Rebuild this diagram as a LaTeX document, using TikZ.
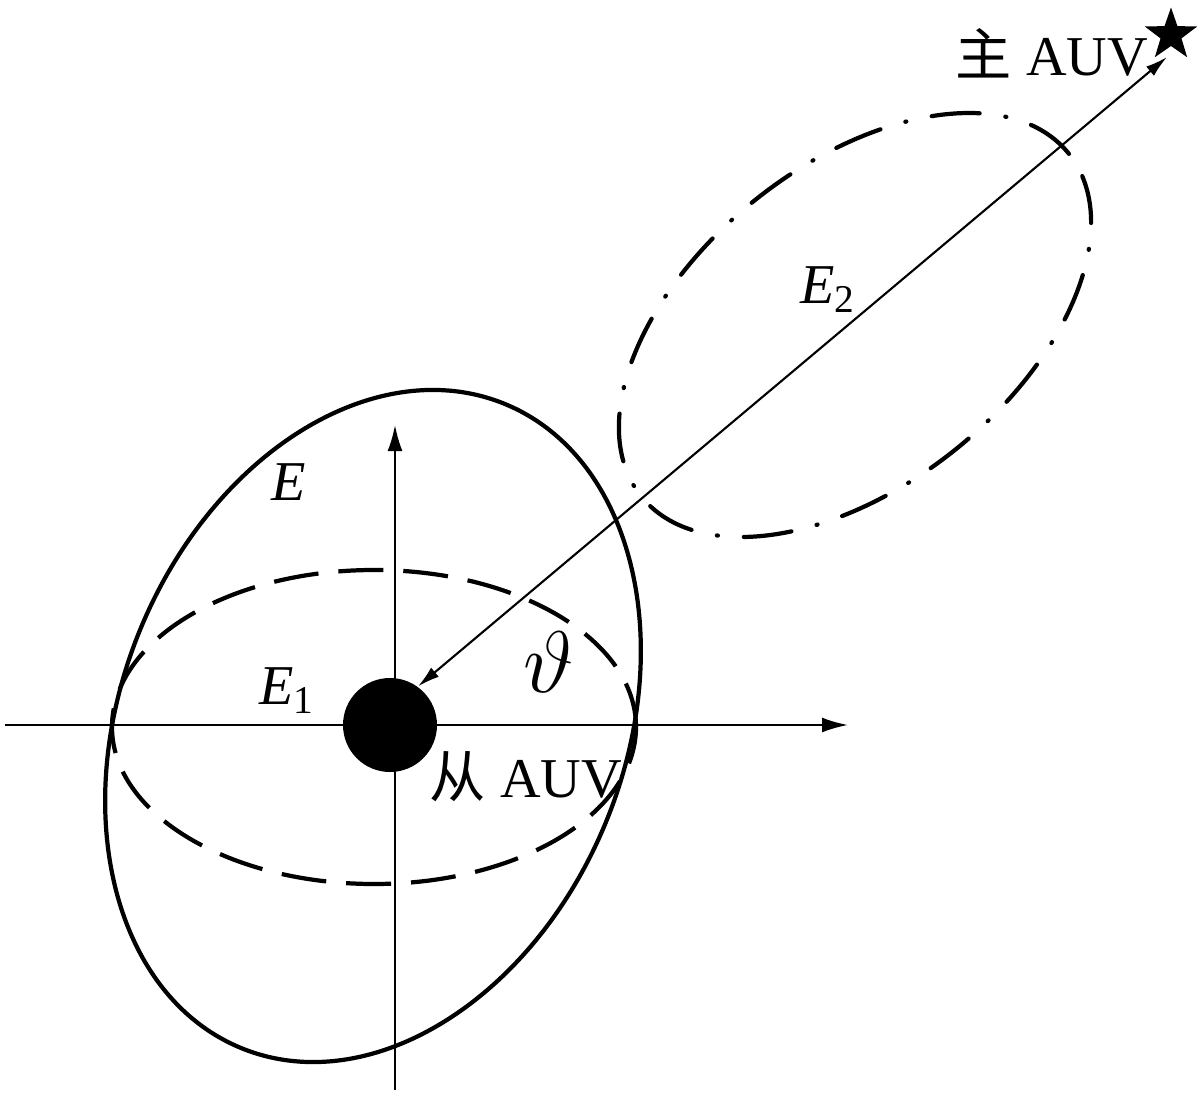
\documentclass[tikz,border=0pt]{standalone}
\usepackage{fontspec}
\setmainfont{Liberation Serif}
\newfontfamily\cjk{Noto Sans CJK SC}
\usetikzlibrary{arrows.meta,shapes.geometric}

\begin{document}
\begin{tikzpicture}[
  axis/.style={line width=0.6pt,-{Latex[length=2.6mm,width=1.5mm]}},
  link/.style={line width=0.6pt,{Latex[length=2.2mm,width=1.2mm]}-{Latex[length=2.2mm,width=1.2mm]}},
  lbl/.style={outer sep=0pt,inner sep=0pt,font=\fontsize{16}{19}\selectfont},
  ]
\useasboundingbox (0,0) rectangle (12,11.1);

% axes
\coordinate (xl) at (0.05,3.85);
\coordinate (xr) at (8.48,3.85);
\coordinate (yb) at (3.95,0.20);
\coordinate (yt) at (3.95,6.85);
\draw [axis] (xl) -- (xr);
\draw [axis] (yb) -- (yt);

% E
\begin{scope}[shift={(3.73,3.84)},rotate=67.8]
\draw [line width=1.2pt] (0,0) ellipse (3.48 and 2.52);
\end{scope}

% E_1
\draw [line width=1.2pt,dash pattern=on 0.45cm off 0.2cm] (3.74,3.83) ellipse (2.62 and 1.57);

% E_2
\begin{scope}[shift={(8.55,7.85)},rotate=38.7]
\draw [line width=1.2pt,line cap=round,dash pattern=on 0.48cm off 0.26cm on 0.01cm off 0.26cm] (0,0) ellipse (2.74 and 1.60);
\end{scope}

% AUVs
\node [circle,fill=black,minimum size=0.94cm,inner sep=0pt] (auv) at (3.90,3.85) {};
\node [star,star points=5,star point ratio=2.5,fill=black,minimum size=0.55cm,inner sep=0pt] (lead) at (11.71,10.75) {};

\coordinate (mtip) at (11.67,10.53);
\draw [link] (mtip) -- (auv.54);

% labels
\node [lbl] (lm) at (10.52,10.57) {{\cjk 主} AUV};
\node [lbl] (ls) at (5.26,3.33) {{\cjk 从} AUV};
\node [lbl] (le) at (2.89,6.28) {\textit{E}};
\node [lbl] (le1) at (2.87,4.19) {\textit{E}\textsubscript{1}};
\node [lbl] (le2) at (8.28,8.20) {\textit{E}\textsubscript{2}};
\node [outer sep=0pt,inner sep=0pt,font=\fontsize{33}{36}\selectfont] (th) at (5.49,4.48) {$\vartheta$};
\end{tikzpicture}
\end{document}
